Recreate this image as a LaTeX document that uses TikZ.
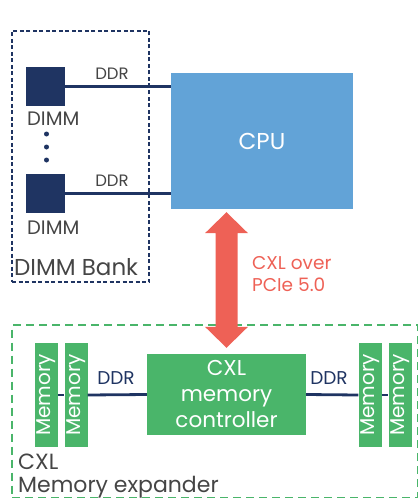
\documentclass[tikz,border=0pt]{standalone}
\usepackage{fontspec}
\setmainfont{Poppins}
\usetikzlibrary{calc}
\definecolor{navy}{HTML}{1F3462}
\definecolor{cpublue}{HTML}{62A3D7}
\definecolor{cxlgreen}{HTML}{4AB56A}
\definecolor{linkred}{HTML}{EE6156}
\definecolor{txtgrey}{HTML}{454545}
\tikzset{
  dimmbox/.style={fill=navy, minimum size=39pt, inner sep=0pt},
  lbl/.style={text=txtgrey, inner sep=0pt, font=\fontsize{#1}{#1}\selectfont},
  lbl/.default=16,
  ddrlink/.style={draw=navy, line width=2.8pt},
  membar/.style={fill=cxlgreen, minimum width=104pt, minimum height=23pt, inner sep=0pt,
    text=white, font=\fontsize{20}{20}\selectfont, rotate=90},
  bankbox/.style={draw=navy, line width=1.2pt, dash pattern=on 4pt off 2.5pt},
  expbox/.style={draw=cxlgreen, line width=1.8pt, dash pattern=on 8pt off 5pt},
}
\begin{document}
\begin{tikzpicture}[x=1pt, y=-1pt]
\useasboundingbox (0,0) rectangle (419,500);

% DIMM bank
\node[bankbox, minimum width=137pt, minimum height=251pt] (bank) at (80.5,156.5) {};
\node[dimmbox] (dimmA) at (45.5,86.5) {};
\node[dimmbox] (dimmB) at (45.5,193.5) {};
\node[lbl=19.5, anchor=west] (dimmAl) at (27,119) {DIMM};
\node[lbl=19.5, anchor=west] (dimmBl) at (27,228) {DIMM};
\foreach \y [count=\i] in {134,147,160}
  \node[fill=navy, circle, minimum size=5pt, inner sep=0pt] (dot\i) at (46.5,\y) {};
\node[lbl=23, anchor=west] (banklbl) at (14,267) {DIMM Bank};

% CPU
\node[fill=cpublue, minimum width=182pt, minimum height=136pt, inner sep=0pt,
      text=white, font=\fontsize{23}{23}\selectfont] (cpu) at (262,141) {CPU};
\draw[ddrlink] (dimmA.east) -- (dimmA.east -| cpu.west);
\draw[ddrlink] (dimmB.east) -- (dimmB.east -| cpu.west);
\node[lbl=16.5] (ddrA) at (112,74) {DDR};
\node[lbl=16.5] (ddrB) at (112,181) {DDR};

% CXL memory expander
\node[expbox, minimum width=405.5pt, minimum height=172.5pt] (exp) at (214.75,411.25) {};
\node[fill=cxlgreen, minimum width=159pt, minimum height=81pt, inner sep=0pt,
      text=white, align=center, font=\fontsize{21.5}{26}\selectfont] (ctrl) at (226.5,394.5)
      {CXL\\memory\\controller};
\node[membar] (memL1) at (46.5,395) {Memory};
\node[membar] (memL2) at (76,395) {Memory};
\node[membar] (memR1) at (370,395) {Memory};
\node[membar] (memR2) at (400,395) {Memory};
\draw[ddrlink] (memL1.south) -- (memL2.north);
\draw[ddrlink] (memL2.south) -- (ctrl.west);
\draw[ddrlink] (ctrl.east) -- (memR1.north);
\draw[ddrlink] (memR1.south) -- (memR2.north);
\node[lbl=18.5, text=navy] (ddrL) at (116,378) {DDR};
\node[lbl=18.5, text=navy] (ddrR) at (329,378) {DDR};
\node[lbl=22, anchor=west] (cxllbl) at (18,462) {CXL};
\node[lbl=22, anchor=west] (explbl) at (18,487) {Memory expander};

% CXL link between CPU and controller
\coordinate (tip) at ($(ctrl.north |- cpu.south)+(0,3)$);
\coordinate (tail) at ($(ctrl.north)+(0,-6)$);
\fill[linkred] (tip) -- ++(21.5,21) -- ++(-10.5,0) -- ($(tail)+(11,-21)$)
  -- ++(10.5,0) -- (tail) -- ++(-21.5,-21) -- ++(10.5,0)
  -- ($(tip)+(-11,21)$) -- ++(-10.5,0) -- cycle;
\node[text=linkred, anchor=west, align=left, inner sep=0pt, font=\fontsize{18.5}{22}\selectfont]
  (linklbl) at (252,274) {CXL over\\PCIe 5.0};
\end{tikzpicture}
\end{document}
